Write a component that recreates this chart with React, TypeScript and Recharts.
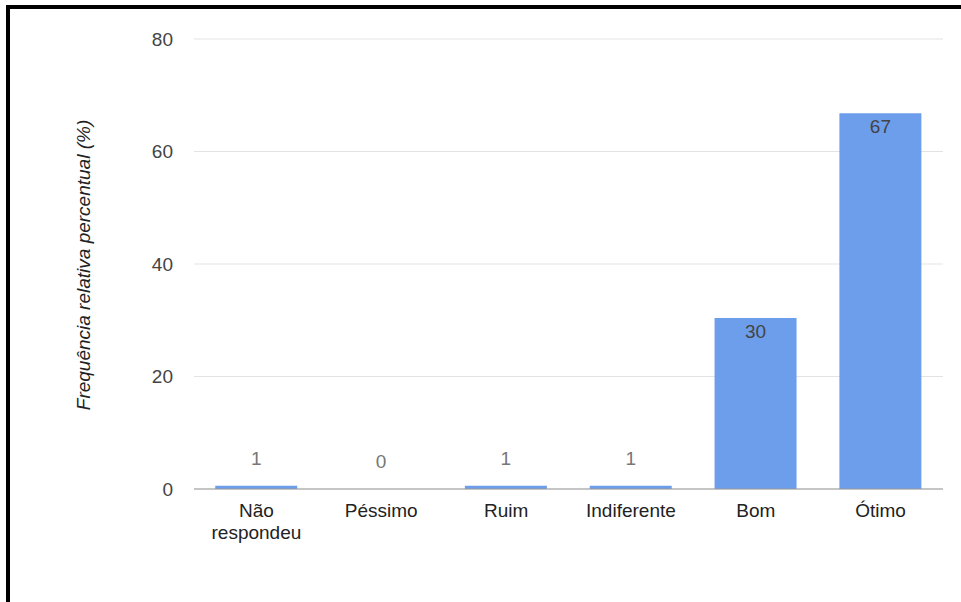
import React from "react";
import { BarChart, Bar, XAxis, YAxis, CartesianGrid, LabelList } from "recharts";

const categories = ["Não respondeu", "Péssimo", "Ruim", "Indiferente", "Bom", "Ótimo"];
const percentages = [0.6, 0, 0.6, 0.6, 30.4, 66.8];
const yTicks = [0, 20, 40, 60, 80];

const chartData = categories.map((name, i) => ({ name, value: percentages[i] }));

const FONT = "'Liberation Sans', Arial, sans-serif";
const FS = 19;

const CategoryTick = (props: any) => {
  const { x, y, payload } = props;
  const words = String(payload.value).split(" ");
  return (
    <text x={x} y={y} textAnchor="middle" fill="#222" fontSize={FS} fontFamily={FONT}>
      {words.map((w: string, i: number) => (
        <tspan key={i} x={x} dy={i === 0 ? 20 : 22}>
          {w}
        </tspan>
      ))}
    </text>
  );
};

const ValueLabel = (props: any) => {
  const { x, y, width, value } = props;
  const small = value < 5;
  return (
    <text
      x={x + width / 2}
      y={small ? y - 21 : y + 20}
      textAnchor="middle"
      fill={small ? "#777" : "#444"}
      fontSize={FS}
      fontFamily={FONT}
    >
      {Math.round(value)}
    </text>
  );
};

const App: React.FC = () => {
  return (
    <div style={{ position: "absolute", left: 0, top: 0, width: 961, height: 602, background: "#fff", overflow: "hidden" }}>
      {/* frame around the figure */}
      <div
        style={{
          position: "absolute",
          left: 6,
          top: 5,
          width: 980,
          height: 620,
          borderLeft: "4px solid #000",
          borderTop: "4px solid #000",
        }}
      />
      <div style={{ position: "absolute", left: 0, top: 0 }}>
        <BarChart
          width={961}
          height={602}
          data={chartData}
          margin={{ top: 39, right: 18, left: 134, bottom: 53 }}
          barCategoryGap="17%"
        >
          <CartesianGrid vertical={false} stroke="#e3e3e3" strokeWidth={1} />
          <XAxis
            dataKey="name"
            interval={0}
            height={60}
            tickLine={false}
            axisLine={{ stroke: "#999" }}
            tick={<CategoryTick />}
          />
          <YAxis
            width={60}
            domain={[0, 80]}
            ticks={yTicks}
            axisLine={false}
            tickLine={false}
            tickMargin={15}
            tick={{ fill: "#444", fontSize: FS, fontFamily: FONT }}
          />
          <Bar dataKey="value" fill="#6d9eeb" minPointSize={0.1} isAnimationActive={false}>
            <LabelList dataKey="value" content={<ValueLabel />} />
          </Bar>
        </BarChart>
      </div>
      <div
        style={{
          position: "absolute",
          left: 84,
          top: 265,
          transform: "translate(-50%, -50%) rotate(-90deg)",
          whiteSpace: "nowrap",
          fontFamily: FONT,
          fontStyle: "italic",
          fontSize: FS,
          color: "#222",
        }}
      >
        Frequência relativa percentual (%)
      </div>
    </div>
  );
};

export default App;
